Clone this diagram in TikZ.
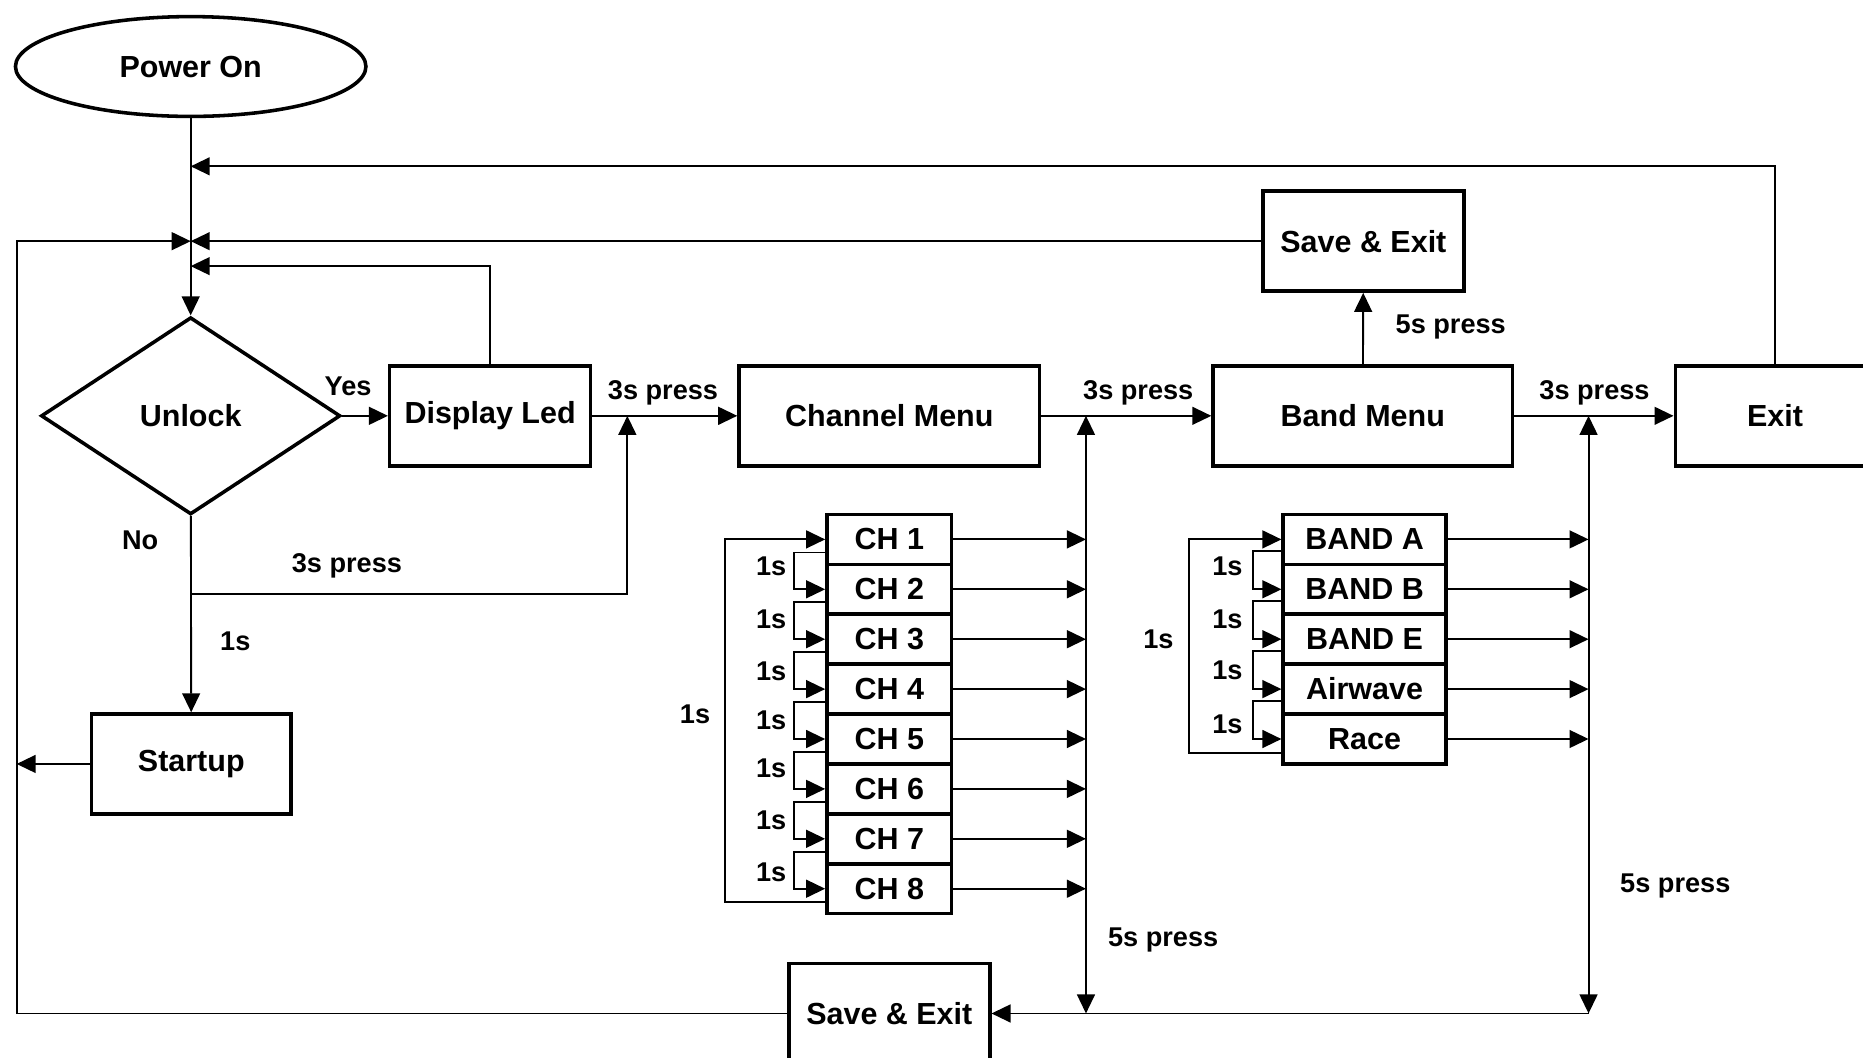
\documentclass[tikz,border=0pt]{standalone}
\usepackage{fontspec}
\setmainfont{Liberation Sans}
\usetikzlibrary{shapes.geometric,arrows.meta}

\newcommand{\boxfont}{\fontsize{7.3}{8.5}\selectfont\bfseries}
\newcommand{\lblfont}{\fontsize{6.5}{7.5}\selectfont\bfseries}

\tikzset{
  >={Stealth[inset=0pt,length=1.6mm,width=1.5mm]},
  box/.style={draw, line width=0.85pt, minimum width=1.69cm, minimum height=0.84cm, inner sep=0pt, font=\boxfont},
  chbox/.style={box, minimum width=1.05cm, minimum height=0.42cm},
  bandbox/.style={box, minimum width=1.37cm, minimum height=0.42cm},
  lbl/.style={inner sep=0pt, font=\lblfont}
}

\begin{document}
\begin{tikzpicture}[line width=0.45pt]
    \useasboundingbox (0, 0) rectangle (15.68, 8.90);
    \clip (0, 0) rectangle (15.68, 8.90);

    \node[box, ellipse, minimum width=2.95cm] (power) at (1.605, 8.34) {Power On};
    \node[box, diamond, minimum width=2.52cm, minimum height=1.66cm] (unlock) at (1.605, 5.40) {Unlock};
    \node[box] (display) at (4.125, 5.40) {Display Led};
    \node[box, minimum width=2.53cm] (channel) at (7.485, 5.40) {Channel Menu};
    \node[box, minimum width=2.52cm] (band) at (11.47, 5.40) {Band Menu};
    \node[box, minimum width=1.68cm] (exit) at (14.94, 5.40) {Exit};
    \node[box] (saveband) at (11.475, 6.87) {Save \& Exit};
    \node[box] (savechan) at (7.485, 0.37) {Save \& Exit};
    \node[box, minimum width=1.68cm] (startup) at (1.61, 2.47) {Startup};

    \node[chbox] (ch1) at (7.485, 4.36) {CH 1};
    \node[chbox] (ch2) at (7.485, 3.94) {CH 2};
    \node[chbox] (ch3) at (7.485, 3.52) {CH 3};
    \node[chbox] (ch4) at (7.485, 3.10) {CH 4};
    \node[chbox] (ch5) at (7.485, 2.68) {CH 5};
    \node[chbox] (ch6) at (7.485, 2.26) {CH 6};
    \node[chbox] (ch7) at (7.485, 1.84) {CH 7};
    \node[chbox] (ch8) at (7.485, 1.42) {CH 8};

    \node[bandbox] (banda) at (11.485, 4.36) {BAND A};
    \node[bandbox] (bandb) at (11.485, 3.94) {BAND B};
    \node[bandbox] (bande) at (11.485, 3.52) {BAND E};
    \node[bandbox] (airwave) at (11.485, 3.10) {Airwave};
    \node[bandbox] (race) at (11.485, 2.68) {Race};

    % junctions
    \coordinate (jexit) at (1.605, 7.50);
    \coordinate (jsave) at (1.605, 6.87);
    \coordinate (jled) at (1.605, 6.66);
    \coordinate (lefttop) at (0.14, 6.87);
    \coordinate (leftbot) at (0.14, 0.37);
    \coordinate (nofork) at (1.605, 3.90);
    \coordinate (ledin) at (5.28, 5.40);
    \coordinate (chtop) at (9.14, 5.40);
    \coordinate (chbot) at (9.14, 0.37);
    \coordinate (bdtop) at (13.37, 5.40);
    \coordinate (bdbot) at (13.37, 0.37);

    \draw [->] (power) -- (unlock);
    \draw [->] (exit.north) |- (jexit);
    \draw [->] (saveband) -- (jsave);
    \draw [->] (savechan) -- (leftbot) -- (lefttop) -- (jsave);
    \draw [->] (display.north) |- (jled);
    \draw [->] (unlock) -- (display);
    \draw [->] (display) -- (channel);
    \draw [->] (channel) -- (band);
    \draw [->] (band) -- (exit);
    \draw [->] (band) -- (saveband);
    \draw [->] (unlock) -- (startup);
    \draw [->] (startup) -- (startup -| leftbot);
    \draw [->] (nofork) -| (ledin);
    \draw [<->] (chbot) -- (chtop);
    \draw [<->] (bdbot) -- (bdtop);
    \draw [->] (bdbot) -- (savechan);

    % channel list
    \draw [->] (ch1) -- (ch1 -| chtop);
    \draw [->] (ch2) -- (ch2 -| chtop);
    \draw [->] (ch3) -- (ch3 -| chtop);
    \draw [->] (ch4) -- (ch4 -| chtop);
    \draw [->] (ch5) -- (ch5 -| chtop);
    \draw [->] (ch6) -- (ch6 -| chtop);
    \draw [->] (ch7) -- (ch7 -| chtop);
    \draw [->] (ch8) -- (ch8 -| chtop);
    \draw [->] ([yshift=-1.1mm]ch1.west) -- ++(-0.26, 0) |- (ch2.west);
    \draw [->] ([yshift=-1.1mm]ch2.west) -- ++(-0.26, 0) |- (ch3.west);
    \draw [->] ([yshift=-1.1mm]ch3.west) -- ++(-0.26, 0) |- (ch4.west);
    \draw [->] ([yshift=-1.1mm]ch4.west) -- ++(-0.26, 0) |- (ch5.west);
    \draw [->] ([yshift=-1.1mm]ch5.west) -- ++(-0.26, 0) |- (ch6.west);
    \draw [->] ([yshift=-1.1mm]ch6.west) -- ++(-0.26, 0) |- (ch7.west);
    \draw [->] ([yshift=-1.1mm]ch7.west) -- ++(-0.26, 0) |- (ch8.west);
    \draw [->] ([yshift=-1.1mm]ch8.west) -- ++(-0.84, 0) |- (ch1.west);

    % band list
    \draw [->] (banda) -- (banda -| bdtop);
    \draw [->] (bandb) -- (bandb -| bdtop);
    \draw [->] (bande) -- (bande -| bdtop);
    \draw [->] (airwave) -- (airwave -| bdtop);
    \draw [->] (race) -- (race -| bdtop);
    \draw [->] ([yshift=-1mm]banda.west) -- ++(-0.24, 0) |- (bandb.west);
    \draw [->] ([yshift=-1mm]bandb.west) -- ++(-0.24, 0) |- (bande.west);
    \draw [->] ([yshift=-1mm]bande.west) -- ++(-0.24, 0) |- (airwave.west);
    \draw [->] ([yshift=-1mm]airwave.west) -- ++(-0.24, 0) |- (race.west);
    \draw [->] ([yshift=-1.2mm]race.west) -- ++(-0.78, 0) |- (banda.west);

    % labels
    \node[lbl] (yes) at (2.93, 5.65) {Yes};
    \node[lbl] (no) at (1.18, 4.35) {No};
    \node[lbl] (ledpress) at (5.58, 5.59) {3s press};
    \node[lbl] (chanpress) at (9.58, 5.59) {3s press};
    \node[lbl] (bandpress) at (13.42, 5.59) {3s press};
    \node[lbl] (nopress) at (2.92, 4.14) {3s press};
    \node[lbl] (nostart) at (1.98, 3.50) {1s};
    \node[lbl] (savepress) at (12.21, 6.15) {5s press};
    \node[lbl] (chsave) at (9.79, 0.99) {5s press};
    \node[lbl] (bdsave) at (14.10, 1.44) {5s press};
    \node[lbl] (chloop) at (5.85, 2.89) {1s};
    \node[lbl] (bdloop) at (9.75, 3.52) {1s};
    \node[lbl] (chstep1) at (6.49, 4.13) {1s};
    \node[lbl] (chstep2) at (6.49, 3.69) {1s};
    \node[lbl] (chstep3) at (6.49, 3.25) {1s};
    \node[lbl] (chstep4) at (6.49, 2.84) {1s};
    \node[lbl] (chstep5) at (6.49, 2.43) {1s};
    \node[lbl] (chstep6) at (6.49, 2.00) {1s};
    \node[lbl] (chstep7) at (6.49, 1.56) {1s};
    \node[lbl] (bdstep1) at (10.33, 4.13) {1s};
    \node[lbl] (bdstep2) at (10.33, 3.69) {1s};
    \node[lbl] (bdstep3) at (10.33, 3.26) {1s};
    \node[lbl] (bdstep4) at (10.33, 2.80) {1s};
\end{tikzpicture}
\end{document}
